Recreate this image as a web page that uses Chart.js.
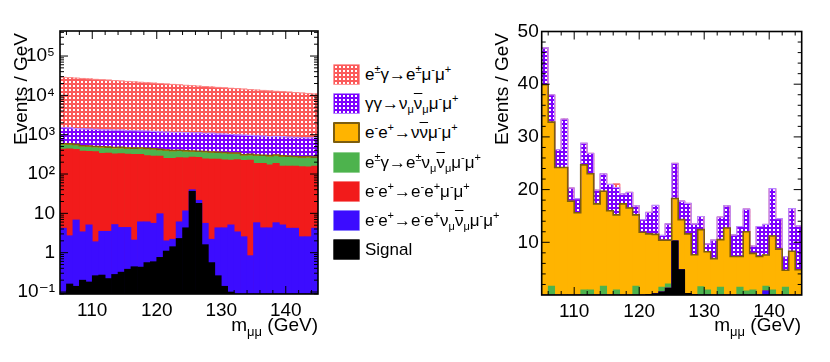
<!DOCTYPE html>
<html><head><meta charset="utf-8">
<script src="https://cdn.jsdelivr.net/npm/chart.js@4.4.1/dist/chart.umd.min.js"></script>
<style>
html,body{margin:0;padding:0;background:#fff;}
body{width:830px;height:362px;position:relative;overflow:hidden;font-family:'Liberation Sans',Arial,'DejaVu Sans',sans-serif;color:#000;}
canvas{position:absolute;top:0;}
#cL{left:0;} #cR{left:480px;}
.ytitle{position:absolute;width:200px;text-align:right;font-size:19px;line-height:19px;white-space:nowrap;transform-origin:100% 0;transform:rotate(-90deg);}
.xtitle{position:absolute;width:200px;text-align:right;font-size:19px;line-height:19px;white-space:nowrap;}
.xtitle .sb{font-size:13px;position:relative;top:5px;}
#legend{position:absolute;left:333px;top:0;z-index:5;}
.row{position:absolute;left:0;height:21px;white-space:nowrap;}
.box{position:absolute;left:0;top:0;width:27px;height:21px;box-sizing:border-box;border-radius:1px;}
.lab{position:absolute;left:32px;top:0;font-size:17px;line-height:21px;}
.sp{font-size:11px;position:relative;top:-7px;}
.sb{font-size:11px;position:relative;top:4px;}
.ov{text-decoration:overline;}
</style>
</head><body>
<canvas id="cL" width="330" height="362"></canvas>
<canvas id="cR" width="350" height="362"></canvas>
<div id="legend"></div>
<div class="ytitle" style="left:-189px;top:33px;">Events / GeV</div>
<div class="ytitle" style="left:292px;top:33px;">Events / GeV</div>
<div class="xtitle" style="left:118px;top:315px;">m<span class="sb">μμ</span> (GeV)</div>
<div class="xtitle" style="left:601px;top:315px;">m<span class="sb">μμ</span> (GeV)</div>
<script>
// ---- bins (GeV) ----
const binCenters = [105.5,106.5,107.5,108.5,109.5,110.5,111.5,112.5,113.5,114.5,115.5,116.5,117.5,118.5,119.5,120.5,121.5,122.5,123.5,124.5,
                    125.5,126.5,127.5,128.5,129.5,130.5,131.5,132.5,133.5,134.5,135.5,136.5,137.5,138.5,139.5,140.5,141.5,142.5,143.5,144.5];
const xTickValues = [110,120,130,140];
const yTickValuesL = [0.1,1,10,100,1000,10000,100000];
const yTickLabelsL = ['10⁻¹','1','10','10²','10³','10⁴','10⁵'];
const yTickValuesR = [10,20,30,40,50];

// ---- left panel (log) series, events / GeV ----
const signalL   = [0.095,0.16,0.14,0.20,0.18,0.26,0.27,0.22,0.28,0.32,0.38,0.44,0.43,0.56,0.59,0.76,1.1,1.42,2.3,4.3,
                   36.5,18,1.6,0.56,0.26,0.14,0.10,0,0,0,0,0,0,0,0,0,0,0,0,0];
const blueL     = [4.1,2.54,6.66,3.2,4.92,1.64,3.23,3.28,4.92,4.08,4.02,1.66,5.67,5.54,5.01,9.04,0.9,0.78,3.8,7.3,
                   3.5,3.5,4.0,1.64,4.04,4.16,5.0,3.4,2.55,0.84,5.8,4.3,4.3,5.8,5.1,4.2,4.2,2.55,2.55,4.2];
const redL      = [428,437,418,377,370,368,332,336,320,326,316,316,309,289,282,275,250,248,256,246,
                   229,246,236,238,234,224,221,229,219,224,182,182,166,182,155,154,156,151,150,156];
const greenL    = [118,105,105,110,105,100,124,110,115,115,110,107,115,125,122,110,128,120,113,107,
                   90,87,108,100,97,102,94,88,68,70,97,94,105,97,110,107,100,101,107,90];
const orangeL   = [38,38,37,34,34,33,32,32,31,31,30,30,30,29,29,28,27,26,26,26,
                   25,25,25,24,24,23,22,22,20,21,20,20,19,20,19,19,18,18,18,18];
const purpleL   = [912,907,863,876,876,857,838,838,829,834,810,805,790,791,781,757,753,754,739,739,
                   735,730,705,726,691,677,668,648,670,644,625,620,606,605,601,586,572,577,552,562];
const lightredL = [27340,26820,26110,25520,24910,24230,23670,23060,22470,21920,21380,20820,20330,19750,19290,18820,18340,17860,17390,16940,
                   16540,16110,15710,15280,14910,14530,14160,13800,13440,13100,12780,12450,12130,11800,11500,11210,10930,10630,10360,10080];

// ---- right panel (linear) series, events / GeV ----
const signalR   = [0,0,0,0,0,0,0,0,0,0,0,0,0,0,0,0,0.15,0.25,0.6,1.3,10.3,4.8,0.3,0.1,0,0,0,0,0,0,0,0,0,0,0,0,0,0,0,0];
const blueR     = [0,0,0,0,0,0,0,0,0,0,0,0,0,0,0,0,0,0,0,0,0,0,0,0,0,0,0,0,0,0,0,0,0,0,0.8,0,0,0,0,0];
const redR      = [0,0,0,0,0,0,0,0,0,0,0,0,0,0,0,0,0,0,0,0,0,0,0,0,0,0,0,0,0,0,0,0,0,0,0,0,0,0,0,0];
const greenR    = [0,1.7,0,0,0,0,1.0,1.0,0,1.7,0,1.0,0,0,1.7,0,0,0,0.9,0.8,0,0,0,0,1.6,1.0,0,1.5,0,0,1.5,0.8,1.0,0,0.9,1.0,0,1.5,0,0];
const orangeR   = [39.9,31.1,24.2,24.2,17.8,15.6,23.7,22.0,17.3,18.0,16.0,14.2,17.3,16.5,13.5,11.9,11.45,11.25,8.9,8.3,
                   8.0,9.5,11.3,7.55,10.8,7.2,6.9,9.0,12.7,7.3,5.8,11.2,6.9,7.3,5.9,10.2,8.7,3.2,8.3,4.8];
const purpleR   = [7.0,5.2,3.4,9.2,2.5,2.7,4.1,3.9,2.6,3.3,5.0,5.2,1.9,3.0,1.7,2.4,4.1,5.5,0.9,3.1,
                   6.7,3.5,5.8,5.85,2.5,1.5,3.5,4.3,4.2,4.1,5.7,4.3,1.4,5.7,5.8,9.0,5.8,2.6,8.1,8.3];
const lightredR = [0,0,0,0,0,0,0,0,0,0,0,0.7,0,0,0,0,0,0,0,0,0,0,0,0,0,0,0,0,0,0,0,0,0,0,0,0,0,0,0,0];

// ---- legend ----
const legendLabels = [
 'e<span class="sp">±</span>γ→e<span class="sp">±</span>μ<span class="sp">-</span>μ<span class="sp">+</span>',
 'γγ→ν<span class="sb">μ</span><span class="ov">ν</span><span class="sb">μ</span>μ<span class="sp">-</span>μ<span class="sp">+</span>',
 'e<span class="sp">-</span>e<span class="sp">+</span>→ν<span class="ov">ν</span>μ<span class="sp">-</span>μ<span class="sp">+</span>',
 'e<span class="sp">±</span>γ→e<span class="sp">±</span>ν<span class="sb">μ</span><span class="ov">ν</span><span class="sb">μ</span>μ<span class="sp">-</span>μ<span class="sp">+</span>',
 'e<span class="sp">-</span>e<span class="sp">+</span>→e<span class="sp">-</span>e<span class="sp">+</span>μ<span class="sp">-</span>μ<span class="sp">+</span>',
 'e<span class="sp">-</span>e<span class="sp">+</span>→e<span class="sp">-</span>e<span class="sp">+</span>ν<span class="sb">μ</span><span class="ov">ν</span><span class="sb">μ</span>μ<span class="sp">-</span>μ<span class="sp">+</span>',
 'Signal'
];

// ---- styling ----
const C = {lightred:'#fb5a5a', purple:'#7d00ff', orange:'#ffb400', orangeLine:'#7d5d0e', green:'#4db34d', red:'#f21b1b', blue:'#3c0cff', signal:'#000000'};
function makeTile(base){
  const c=document.createElement('canvas'); c.width=4; c.height=4;
  const g=c.getContext('2d'); g.fillStyle=base; g.fillRect(0,0,4,4);
  g.fillStyle='#ffffff'; g.fillRect(1,1,2,2); return c;
}
const tileLR = makeTile(C.lightred), tilePU = makeTile(C.purple);
const patLR = document.getElementById('cL').getContext('2d').createPattern(tileLR,'repeat');
const patPU = document.getElementById('cL').getContext('2d').createPattern(tilePU,'repeat');

// legend build
(function(){
  const lg=document.getElementById('legend');
  const tops=[64,93.2,122.4,151.6,180.8,210,239.2];
  const boxes=[
    {bg:C.lightred, img:tileLR, bd:'#ff9c9c'},
    {bg:C.purple, img:tilePU, bd:'#b584ff'},
    {bg:C.orange, bd:C.orangeLine, w:2},
    {bg:C.green, bd:'#8fd08f'},
    {bg:C.red, bd:'#f87a7a'},
    {bg:C.blue, bd:'#8c7cff'},
    {bg:'#000', bd:'#444'}];
  legendLabels.forEach((t,i)=>{
    const r=document.createElement('div'); r.className='row'; r.style.top=tops[i]+'px';
    const b=document.createElement('div'); b.className='box';
    b.style.background=boxes[i].bg;
    if(boxes[i].img){ b.style.backgroundImage='url('+boxes[i].img.toDataURL()+')'; }
    b.style.border=(boxes[i].w||1)+'px solid '+boxes[i].bd;
    const l=document.createElement('div'); l.className='lab'; l.innerHTML=t;
    r.appendChild(b); r.appendChild(l); lg.appendChild(r);
  });
})();

// ---- helpers ----
function cumulative(list){
  const out=[]; let run=binCenters.map(()=>0);
  list.forEach(s=>{ run=run.map((v,i)=>v+s[i]); out.push(run.slice()); });
  return out;
}
function stepLine(cum){
  const pts=[];
  binCenters.forEach((c,i)=>{ pts.push({x:c-0.5,y:cum[i]}); pts.push({x:c+0.5,y:cum[i]}); });
  return pts;
}
function buildDatasets(series){
  const cum=cumulative(series); // order: signal, blue, red, green, orange, purple, lightred
  const fills=[C.signal,C.blue,C.red,C.green,C.orange,patPU,patLR];
  const ds=[];
  cum.forEach((arr,k)=>{
    ds.push({type:'bar', data:binCenters.map((c,i)=>({x:c,y:arr[i]})), backgroundColor:fills[k], borderWidth:0, order:k+3});
  });
  // outlines: lower order value is drawn later (on top)
  ds.push({type:'line', data:stepLine(cum[4]), borderColor:C.orangeLine, borderWidth:1.6, pointRadius:0, fill:false, order:0});
  ds.push({type:'line', data:stepLine(cum[5]), borderColor:'#b987ff', borderWidth:1.2, pointRadius:0, fill:false, order:1});
  ds.push({type:'line', data:stepLine(cum[6]), borderColor:'#fc8a8a', borderWidth:1, pointRadius:0, fill:false, order:2});
  return ds;
}

const tickFont={family:"'Liberation Sans', Arial, 'DejaVu Sans', sans-serif", size:19};

function framePlugin(isLog){
  return {
    id:'frame'+(isLog?'L':'R'),
    afterDraw(chart){
      const {ctx, chartArea:a, scales:{x,y}}=chart;
      ctx.save(); ctx.strokeStyle='#000'; ctx.lineWidth=1; ctx.beginPath();
      for(let v=106; v<145; v+=2){
        const px=x.getPixelForValue(v); const L=(v%10===0)?8:4;
        ctx.moveTo(px,a.bottom); ctx.lineTo(px,a.bottom-L);
        ctx.moveTo(px,a.top); ctx.lineTo(px,a.top+L);
      }
      const yt=[];
      if(isLog){
        for(let e=-2;e<=5;e++){ for(let k=1;k<=9;k++){ const v=k*Math.pow(10,e); if(v>=y.min && v<=y.max) yt.push([v,k===1?8:4]); } }
      } else {
        for(let v=2; v<50; v+=2){ yt.push([v, v%10===0?8:4]); }
      }
      yt.forEach(([v,L])=>{ const py=y.getPixelForValue(v);
        ctx.moveTo(a.left,py); ctx.lineTo(a.left+L,py);
        ctx.moveTo(a.right,py); ctx.lineTo(a.right-L,py); });
      ctx.stroke();
      ctx.lineWidth=1.6;
      ctx.strokeRect(a.left,a.top,a.right-a.left,a.bottom-a.top);
      ctx.restore();
    }
  };
}

function makeChart(id, series, isLog, geo){
  const yOpts = isLog ? {
      type:'logarithmic', min:0.089, max:4.33e5, bounds:'data',
      afterBuildTicks:s=>{ s.ticks=yTickValuesL.map(v=>({value:v})); },
      ticks:{autoSkip:false, padding:5, color:'#000', font:tickFont, callback:(v,i)=>yTickLabelsL[i]}
    } : {
      type:'linear', min:0, max:50, bounds:'data',
      afterBuildTicks:s=>{ s.ticks=yTickValuesR.map(v=>({value:v})); },
      ticks:{autoSkip:false, padding:3, color:'#000', font:tickFont, callback:(v,i)=>String(yTickValuesR[i])}
    };
  Object.assign(yOpts,{grid:{display:false,drawTicks:false}, border:{display:false}, afterFit:s=>{s.width=geo.yw;}});
  return new Chart(document.getElementById(id),{
    type:'bar',
    data:{datasets:buildDatasets(series)},
    options:{
      responsive:false, animation:false, devicePixelRatio:1,
      layout:{padding:{top:geo.top, right:geo.right, left:0, bottom:0}},
      datasets:{bar:{barPercentage:1, categoryPercentage:1, grouped:false}},
      plugins:{legend:{display:false}, tooltip:{enabled:false}},
      scales:{
        x:{type:'linear', min:105, max:145, offset:false, bounds:'data',
           grid:{display:false,drawTicks:false}, border:{display:false},
           afterBuildTicks:s=>{ s.ticks=xTickValues.map(v=>({value:v})); },
           afterFit:s=>{ s.height=geo.xh; },
           ticks:{autoSkip:false, maxRotation:0, padding:5, color:'#000', font:tickFont, callback:(v,i)=>String(xTickValues[i])}},
        y:yOpts
      }
    },
    plugins:[framePlugin(isLog)]
  });
}

makeChart('cL',[signalL,blueL,redL,greenL,orangeL,purpleL,lightredL],true,{top:31,right:12,yw:60,xh:68});
makeChart('cR',[signalR,blueR,redR,greenR,orangeR,purpleR,lightredR],false,{top:31.5,right:28.3,yw:61.7,xh:67});
</script>
</body></html>
